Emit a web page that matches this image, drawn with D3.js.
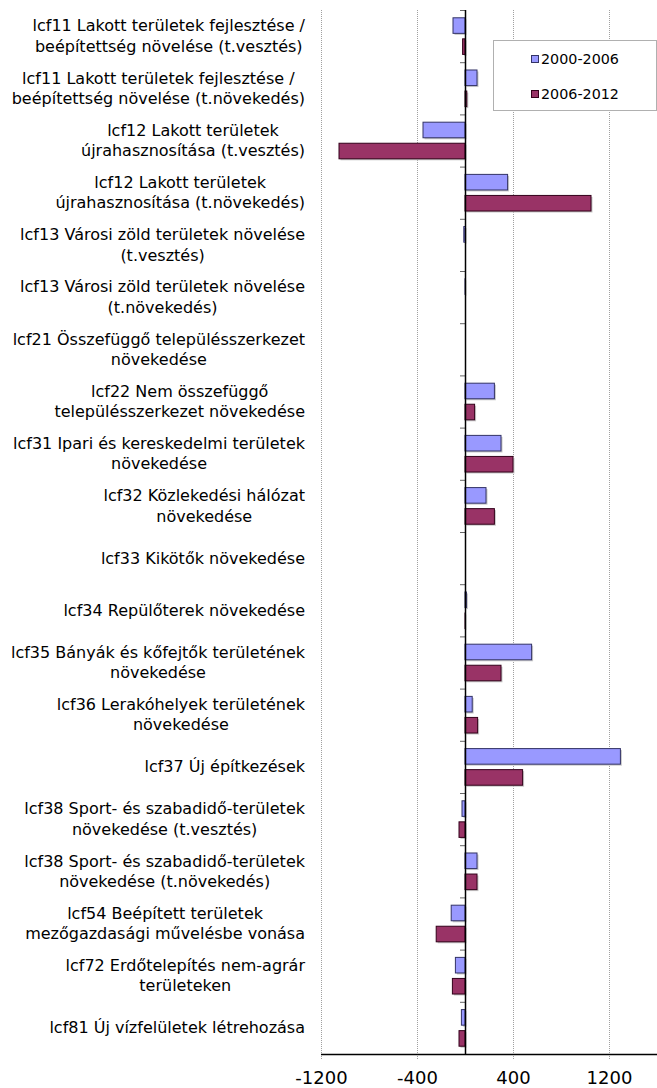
<!DOCTYPE html>
<meta charset="utf-8">
<style>
 body {
   margin: 0;
   background-color: #fff;
 }

 svg {
   font-family: "DejaVu Sans", Verdana, sans-serif;
 }

 .labels text {
   font-size: 16px;
   fill: #000;
 }

 .grid line {
   stroke: #a0a0a0;
   stroke-dasharray: 1,1;
 }

 .legend text {
   font-size: 14.3px;
   fill: #000;
 }
</style>

<svg width="657" height="1088"></svg>

<script src="https://cdn.jsdelivr.net/npm/d3@7"></script>
<script>

 // one entry per category, each one already split into its lines
 var categories = [
   ['lcf11 Lakott területek fejlesztése /', 'beépítettség növelése (t.vesztés)'],
   ['lcf11 Lakott területek fejlesztése /', 'beépítettség növelése (t.növekedés)'],
   ['lcf12 Lakott területek', 'újrahasznosítása (t.vesztés)'],
   ['lcf12 Lakott területek', 'újrahasznosítása (t.növekedés)'],
   ['lcf13 Városi zöld területek növelése', '(t.vesztés)'],
   ['lcf13 Városi zöld területek növelése', '(t.növekedés)'],
   ['lcf21 Összefüggő településszerkezet', 'növekedése'],
   ['lcf22 Nem összefüggő', 'településszerkezet növekedése'],
   ['lcf31 Ipari és kereskedelmi területek', 'növekedése'],
   ['lcf32 Közlekedési hálózat', 'növekedése'],
   ['lcf33 Kikötők növekedése'],
   ['lcf34 Repülőterek növekedése'],
   ['lcf35 Bányák és kőfejtők területének', 'növekedése'],
   ['lcf36 Lerakóhelyek területének', 'növekedése'],
   ['lcf37 Új építkezések'],
   ['lcf38 Sport- és szabadidő-területek', 'növekedése (t.vesztés)'],
   ['lcf38 Sport- és szabadidő-területek', 'növekedése (t.növekedés)'],
   ['lcf54 Beépített területek', 'mezőgazdasági művelésbe vonása'],
   ['lcf72 Erdőtelepítés nem-agrár', 'területeken'],
   ['lcf81 Új vízfelületek létrehozása']
 ]

 var seriesNames = ['2000-2006', '2006-2012']
 var seriesColors = ['#9999ff', '#993366']
 var seriesStrokes = ['#333366', '#33001a']

 var values2000 = [-100, 100, -350, 355, -10, 3, 0, 245, 300, 175,
                   0, 12, 555, 60, 1295, -25, 100, -115, -80, -30]
 var values2006 = [-20, 15, -1050, 1050, 0, 0, 0, 80, 400, 245,
                   0, 3, 300, 105, 480, -50, 100, -240, -105, -50]

 var xTicks = [-1200, -400, 400, 1200]

 var svg = d3.select('svg')

 var plotLeft = 321, plotRight = 657, plotTop = 10, plotBottom = 1054

 var x = d3.scaleLinear()
           .domain([-1200, 1600])
           .range([plotLeft, plotRight])

 var keys = categories.map((d, i) => i)
 var y = d3.scaleBand()
           .domain(keys)
           .range([plotTop, plotBottom])

 var ySub = d3.scaleBand()
              .domain([0, 1])
              .range([0, y.bandwidth()])
              .paddingInner(0.26)
              .paddingOuter(0.37)

 // dotted gridlines, a bit past the axis like the tick marks
 svg.append('g')
    .attr('class', 'grid')
    .selectAll('line')
    .data(xTicks)
    .join('line')
    .attr('x1', d => x(d) + 0.5)
    .attr('x2', d => x(d) + 0.5)
    .attr('y1', plotTop)
    .attr('y2', plotBottom + 5)

 var rows = categories.map((c, i) => ({i: i, vals: [values2000[i], values2006[i]]}))

 var bars = svg.append('g').attr('class', 'bars')
 rows.forEach(function (r) {
   r.vals.forEach(function (v, s) {
     if (v === 0) return
     var x0 = Math.min(x(0), x(v)), w = Math.abs(x(v) - x(0))
     var yy = y(r.i) + ySub(s)
     // soft shadow
     bars.append('rect')
         .attr('x', x0 + 1.5)
         .attr('y', yy + 1.5)
         .attr('width', w)
         .attr('height', ySub.bandwidth())
         .attr('fill', '#c8c8c8')
     bars.append('rect')
         .attr('x', x0)
         .attr('y', yy)
         .attr('width', w)
         .attr('height', ySub.bandwidth())
         .attr('fill', seriesColors[s])
         .attr('stroke', seriesStrokes[s])
         .attr('stroke-width', 1)
   })
 })

 // zero axis with category ticks
 var zero = svg.append('g').attr('class', 'zero-axis')
 zero.selectAll('line.tick')
     .data(keys.concat([keys.length]))
     .join('line')
     .attr('class', 'tick')
     .attr('x1', x(0) - 5)
     .attr('x2', x(0))
     .attr('y1', d => (d < keys.length ? y(d) : plotBottom) + 0.5)
     .attr('y2', d => (d < keys.length ? y(d) : plotBottom) + 0.5)
     .attr('stroke', '#666')
 zero.append('line')
     .attr('x1', x(0) + 0.5)
     .attr('x2', x(0) + 0.5)
     .attr('y1', plotTop)
     .attr('y2', plotBottom)
     .attr('stroke', '#000')
     .attr('stroke-width', 1.5)

 // bottom axis
 var xAxis = svg.append('g')
                .attr('class', 'x-axis')
                .attr('transform', `translate(0,${plotBottom})`)
                .call(d3.axisBottom(x)
                        .tickValues(xTicks)
                        .tickFormat(d => String(d))
                        .tickSize(0)
                        .tickPadding(17))
 xAxis.attr('font-family', null).attr('font-size', null)
 xAxis.select('.domain')
      .attr('d', `M${plotLeft},0.5H${plotRight}`)
      .attr('stroke', '#000')
      .attr('stroke-width', 1.5)
 xAxis.selectAll('text')
      .style('font-size', '18px')
      .style('fill', '#000')

 // category labels: block right-aligned, lines centred within the block
 var lineH = 20.5
 var labelRight = 305
 svg.append('g')
    .attr('class', 'labels')
    .selectAll('text')
    .data(rows)
    .join('text')
    .attr('text-anchor', 'middle')
    .attr('y', d => y(d.i) + y.bandwidth() / 2)
    .each(function (d) {
      var lines = categories[d.i]
      var t = d3.select(this)
      var spans = lines.map(function (l, k) {
        return t.append('tspan')
                .attr('dy', k === 0 ? ((-(lines.length - 1) / 2) * lineH + 5.5) + 'px' : lineH + 'px')
                .text(l)
      })
      var maxW = d3.max(spans, s => s.node().getComputedTextLength())
      spans.forEach(s => s.attr('x', labelRight - maxW / 2))
    })

 // legend
 var legend = svg.append('g').attr('class', 'legend')
 legend.append('rect')
       .attr('x', 493.5)
       .attr('y', 40.5)
       .attr('width', 163)
       .attr('height', 70)
       .attr('fill', '#fff')
       .attr('stroke', '#b0b0b0')
 seriesNames.forEach(function (name, s) {
   var cy = 59 + s * 35
   legend.append('rect')
         .attr('x', 531.5)
         .attr('y', cy - 3.5)
         .attr('width', 7)
         .attr('height', 7)
         .attr('fill', seriesColors[s])
         .attr('stroke', seriesStrokes[s])
   legend.append('text')
         .attr('x', 541)
         .attr('y', cy + 5)
         .text(name)
 })

</script>
